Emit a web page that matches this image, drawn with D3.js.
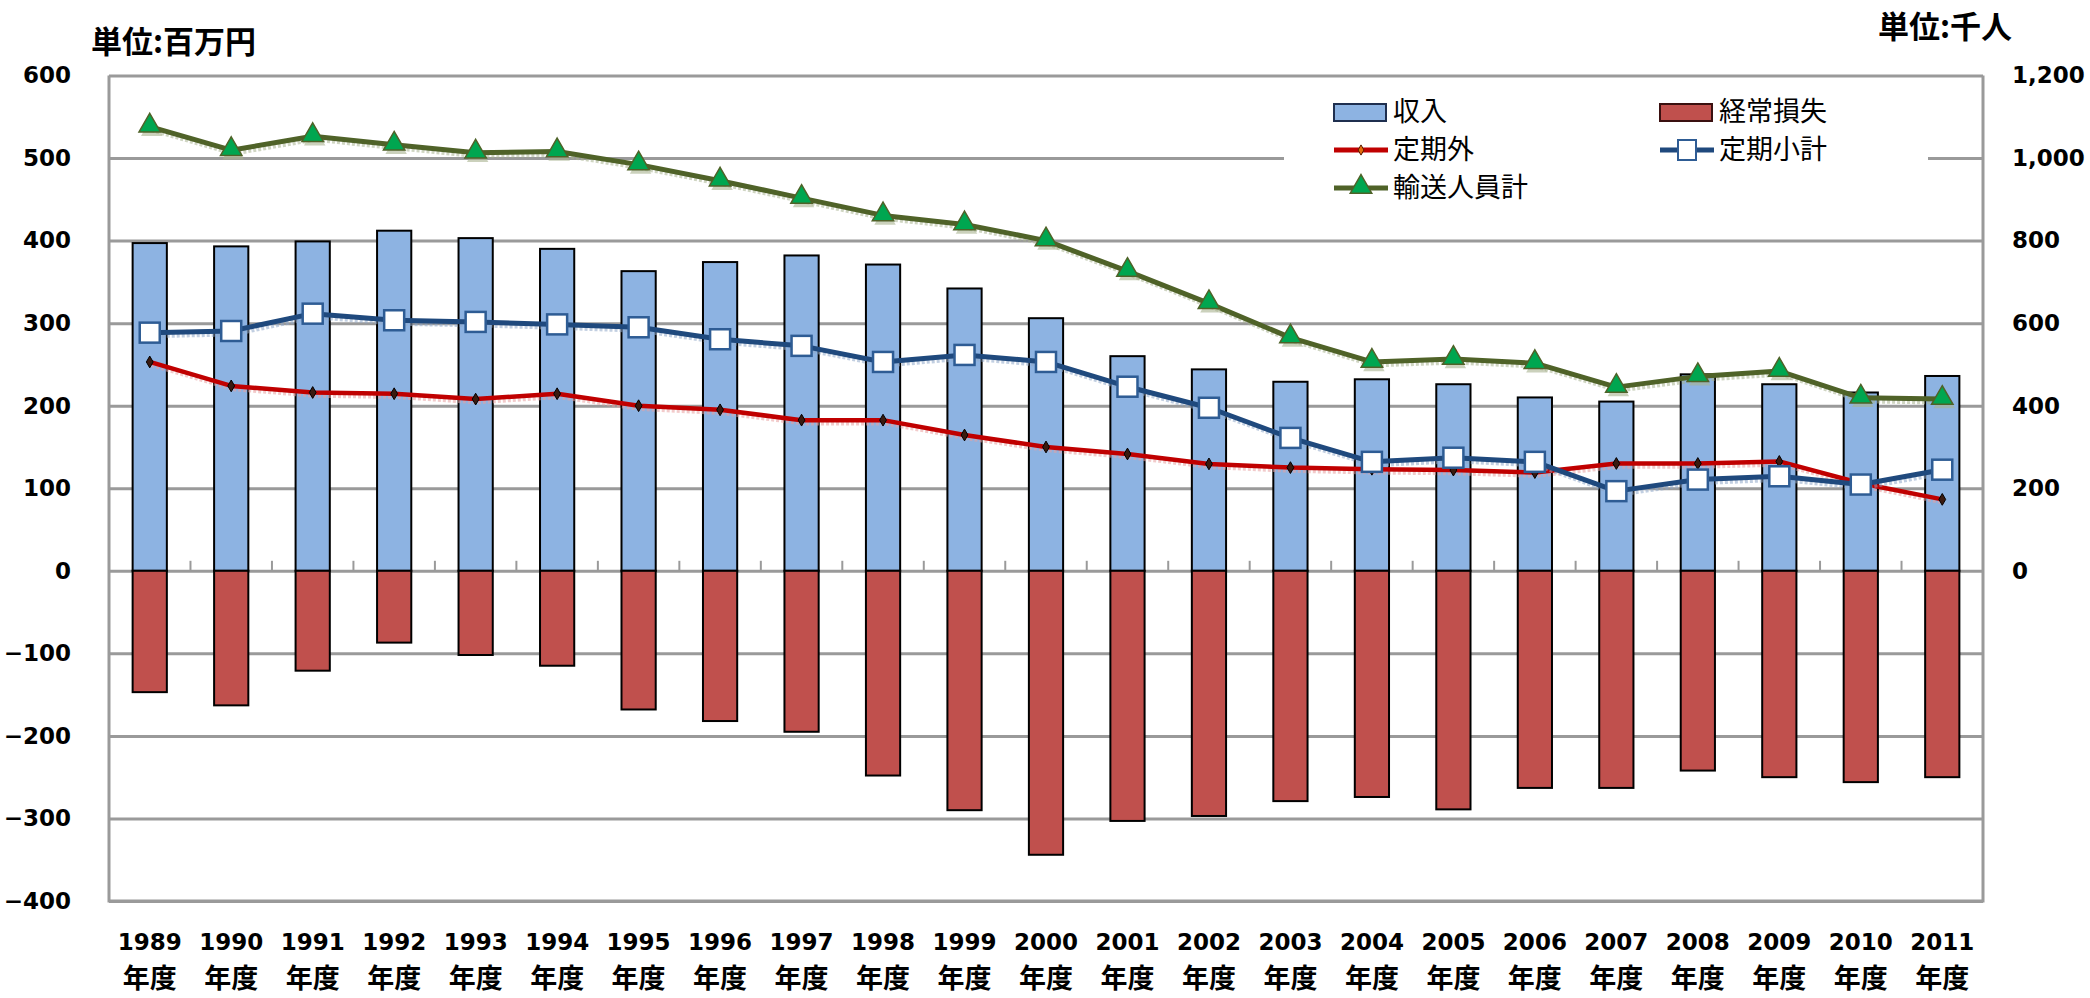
<!DOCTYPE html>
<html lang="ja">
<head>
<meta charset="utf-8">
<script src="https://cdn.jsdelivr.net/npm/d3@7"></script>
<style>
  html, body { margin: 0; padding: 0; background: #fff; }
  svg { display: block; }
  .tick-label { font-family: "DejaVu Sans", "Noto Sans", sans-serif; font-weight: bold; font-size: 23px; fill: #000; }
  .cjk { font-family: "Noto Sans CJK JP", "Noto Sans CJK SC", sans-serif; }
</style>
</head>
<body>
<svg id="chart" width="2090" height="998"></svg>
<script>
// Fiscal years (年度)
const years = ["1989","1990","1991","1992","1993","1994","1995","1996","1997","1998","1999","2000",
               "2001","2002","2003","2004","2005","2006","2007","2008","2009","2010","2011"];

// 収入 (百万円)
const income = [397, 393, 399, 412, 403, 390, 363, 374, 382, 371, 342, 306,
                260, 244, 229, 232, 226, 210, 205, 238, 226, 216, 236];

// 経常損失 (百万円)
const loss = [-147, -163, -121, -87, -102, -115, -168, -182, -195, -248, -290, -344,
              -303, -297, -279, -274, -289, -263, -263, -242, -250, -256, -250];

// 定期外 (千人)
const nonCommuter = [506, 448, 432, 429, 416, 429, 400, 390, 365, 365, 329, 300,
                     283, 259, 250, 246, 244, 238, 260, 260, 265, 212, 173];

// 定期小計 (千人)
const commuter = [577, 581, 623, 607, 603, 597, 590, 561, 545, 506, 523, 506,
                  446, 395, 322, 264, 274, 264, 193, 221, 229, 209, 245];

// 輸送人員計 (千人)
const passengersTotal = [1076, 1019, 1053, 1032, 1013, 1016, 984, 945, 903, 861, 839, 800,
                         726, 648, 565, 506, 513, 503, 445, 471, 484, 419, 416];

// Axis ticks
const leftTicks = [600, 500, 400, 300, 200, 100, 0, -100, -200, -300, -400];
const rightTicks = [1200, 1000, 800, 600, 400, 200, 0];

// Unit captions and legend names
const leftUnit = "単位:百万円";
const rightUnit = "単位:千人";
const yearSuffix = "年度";
const seriesNames = { income: "収入", loss: "経常損失", nonCommuter: "定期外", commuter: "定期小計", total: "輸送人員計" };

// ---------------------------------------------------------------------
const svg = d3.select("#chart");
const plot = { left: 109, right: 1983, top: 75.5, bottom: 901 };

const x = d3.scaleBand().domain(years).range([plot.left, plot.right])
  .paddingInner(0.58).paddingOuter(0.29);
const yL = d3.scaleLinear().domain([-400, 600]).range([plot.bottom, plot.top]);
const yR = d3.scaleLinear().domain([0, 1200]).range([yL(0), plot.top]);

const colors = {
  income: "#8db3e2", loss: "#c0504d",
  red: "#c00000", blue: "#1f497d", green: "#4f6228", tri: "#00a650",
  grid: "#9a9a9a"
};

// Gridlines
const grid = svg.append("g")
  .attr("transform", `translate(${plot.left},0)`)
  .call(d3.axisLeft(yL).tickValues(leftTicks).tickSize(-(plot.right - plot.left)).tickFormat(""));
grid.select(".domain").remove();
grid.selectAll("line").attr("stroke", colors.grid).attr("stroke-width", 3);

// Plot frame (left, bottom, right)
svg.append("path")
  .attr("d", `M${plot.left},${plot.top}V${plot.bottom}H${plot.right}V${plot.top}`)
  .attr("fill", "none").attr("stroke", colors.grid).attr("stroke-width", 3);

// Bars
svg.append("g").selectAll("rect").data(years).join("rect")
  .attr("x", d => x(d)).attr("width", x.bandwidth())
  .attr("y", (d, i) => yL(income[i]))
  .attr("height", (d, i) => yL(0) - yL(income[i]))
  .attr("fill", colors.income).attr("stroke", "#000").attr("stroke-width", 2);

svg.append("g").selectAll("rect").data(years).join("rect")
  .attr("x", d => x(d)).attr("width", x.bandwidth())
  .attr("y", yL(0))
  .attr("height", (d, i) => yL(loss[i]) - yL(0))
  .attr("fill", colors.loss).attr("stroke", "#000").attr("stroke-width", 2);

// Category separators on the zero line
svg.append("g").selectAll("line").data(years.slice(1)).join("line")
  .attr("x1", d => x(d) - x.step() * x.paddingInner() / 2)
  .attr("x2", d => x(d) - x.step() * x.paddingInner() / 2)
  .attr("y1", yL(0)).attr("y2", yL(0) - 10)
  .attr("stroke", colors.grid).attr("stroke-width", 2);

// Lines on the right axis
const cx = d => x(d) + x.bandwidth() / 2;
const lineGen = vals => d3.line().x(d => cx(d)).y((d, i) => yR(vals[i]))(years);

function drawSeries(vals, color, shadow, width) {
  const g = svg.append("g");
  g.append("path").attr("d", lineGen(vals)).attr("fill", "none")
    .attr("stroke", shadow).attr("stroke-width", width).attr("opacity", 0.55)
    .attr("stroke-dasharray", "3,2")
    .attr("transform", "translate(2,3)");
  g.append("path").attr("d", lineGen(vals)).attr("fill", "none")
    .attr("stroke", color).attr("stroke-width", width).attr("stroke-linejoin", "round");
  return g;
}

// 定期外
const gRed = drawSeries(nonCommuter, colors.red, "#e8a0a0", 4.5);
gRed.selectAll("path.m").data(years).join("path").attr("class", "m")
  .attr("d", d3.symbol(d3.symbolDiamond, 40))
  .attr("transform", (d, i) => `translate(${cx(d)},${yR(nonCommuter[i])})`)
  .attr("fill", "#3a1a10").attr("stroke", "#000").attr("stroke-width", 1);

// 定期小計
const gBlue = drawSeries(commuter, colors.blue, "#90a8c8", 5);
gBlue.selectAll("rect.m").data(years).join("rect").attr("class", "m")
  .attr("x", d => cx(d) - 10).attr("y", (d, i) => yR(commuter[i]) - 10)
  .attr("width", 20).attr("height", 20)
  .attr("fill", "#fff").attr("stroke", "#2e5c94").attr("stroke-width", 2.5);

// 輸送人員計
const gGreen = drawSeries(passengersTotal, colors.green, "#a8b290", 5);
const tri = d3.symbol(d3.symbolTriangle, 200);
gGreen.selectAll("path.s").data(years).join("path").attr("class", "s")
  .attr("d", tri)
  .attr("transform", (d, i) => `translate(${cx(d) + 2},${yR(passengersTotal[i]) + 3})`)
  .attr("fill", "#a8b290").attr("opacity", 0.6);
gGreen.selectAll("path.m").data(years).join("path").attr("class", "m")
  .attr("d", tri)
  .attr("transform", (d, i) => `translate(${cx(d)},${yR(passengersTotal[i]) - 1})`)
  .attr("fill", colors.tri).attr("stroke", "#4f6228").attr("stroke-width", 1.5);

// Left axis labels
const axL = svg.append("g").attr("transform", `translate(${plot.left},0)`)
  .call(d3.axisLeft(yL).tickValues(leftTicks).tickSize(0).tickPadding(38));
axL.select(".domain").remove();
axL.selectAll("text").attr("class", "tick-label").attr("font-size", null).attr("font-family", null);

// Right axis labels
const axR = svg.append("g").attr("transform", `translate(${plot.right},0)`)
  .call(d3.axisRight(yR).tickValues(rightTicks).tickSize(0).tickPadding(29).tickFormat(d3.format(",")));
axR.select(".domain").remove();
axR.selectAll("text").attr("class", "tick-label").attr("font-size", null).attr("font-family", null);

// Category labels
const xl = svg.append("g").selectAll("g").data(years).join("g")
  .attr("transform", d => `translate(${cx(d)},0)`);
xl.append("text").attr("class", "tick-label").attr("text-anchor", "middle")
  .attr("y", 950).text(d => d);
xl.append("text").attr("class", "cjk").attr("text-anchor", "middle")
  .attr("y", 988).attr("font-size", 27).attr("font-weight", "bold").text(yearSuffix);

// Unit captions
svg.append("text").attr("class", "cjk").attr("x", 91).attr("y", 53)
  .attr("font-size", 31).attr("font-weight", "bold").text(leftUnit);
svg.append("text").attr("class", "cjk").attr("x", 1878).attr("y", 38)
  .attr("font-size", 31).attr("font-weight", "bold").text(rightUnit);

// Legend
const lg = svg.append("g");
lg.append("rect").attr("x", 1284).attr("y", 86).attr("width", 644).attr("height", 128).attr("fill", "#fff");
const legendItems = [
  { key: "income", col: 0, row: 0 },
  { key: "loss", col: 1, row: 0 },
  { key: "nonCommuter", col: 0, row: 1 },
  { key: "commuter", col: 1, row: 1 },
  { key: "total", col: 0, row: 2 }
];
const colX = [1334, 1660], rowY = [112, 150, 188];
legendItems.forEach(it => {
  const g = lg.append("g").attr("transform", `translate(${colX[it.col]},${rowY[it.row]})`);
  if (it.key === "income" || it.key === "loss") {
    g.append("rect").attr("x", 0).attr("y", -8).attr("width", 52).attr("height", 17)
      .attr("fill", colors[it.key]).attr("stroke", it.key === "income" ? "#1f2f4f" : "#3a1010").attr("stroke-width", 2);
  } else if (it.key === "nonCommuter") {
    g.append("line").attr("x1", 0).attr("x2", 54).attr("stroke", colors.red).attr("stroke-width", 5);
    g.append("path").attr("d", d3.symbol(d3.symbolDiamond, 30)).attr("transform", "translate(27,0)")
      .attr("fill", "#e46c0a").attr("stroke", "#5a1a00").attr("stroke-width", 1);
  } else if (it.key === "commuter") {
    g.append("line").attr("x1", 0).attr("x2", 54).attr("stroke", colors.blue).attr("stroke-width", 5);
    g.append("rect").attr("x", 18).attr("y", -10).attr("width", 18).attr("height", 20)
      .attr("fill", "#fff").attr("stroke", "#2e5c94").attr("stroke-width", 2);
  } else {
    g.append("line").attr("x1", 0).attr("x2", 54).attr("stroke", colors.green).attr("stroke-width", 5);
    g.append("path").attr("d", d3.symbol(d3.symbolTriangle, 200)).attr("transform", "translate(27,-1)")
      .attr("fill", colors.tri).attr("stroke", "#4f6228").attr("stroke-width", 1.5);
  }
  g.append("text").attr("class", "cjk").attr("x", 59).attr("y", 0).attr("dy", "0.35em")
    .attr("font-size", 27).attr("fill", "#000").text(seriesNames[it.key]);
});
</script>
</body>
</html>
